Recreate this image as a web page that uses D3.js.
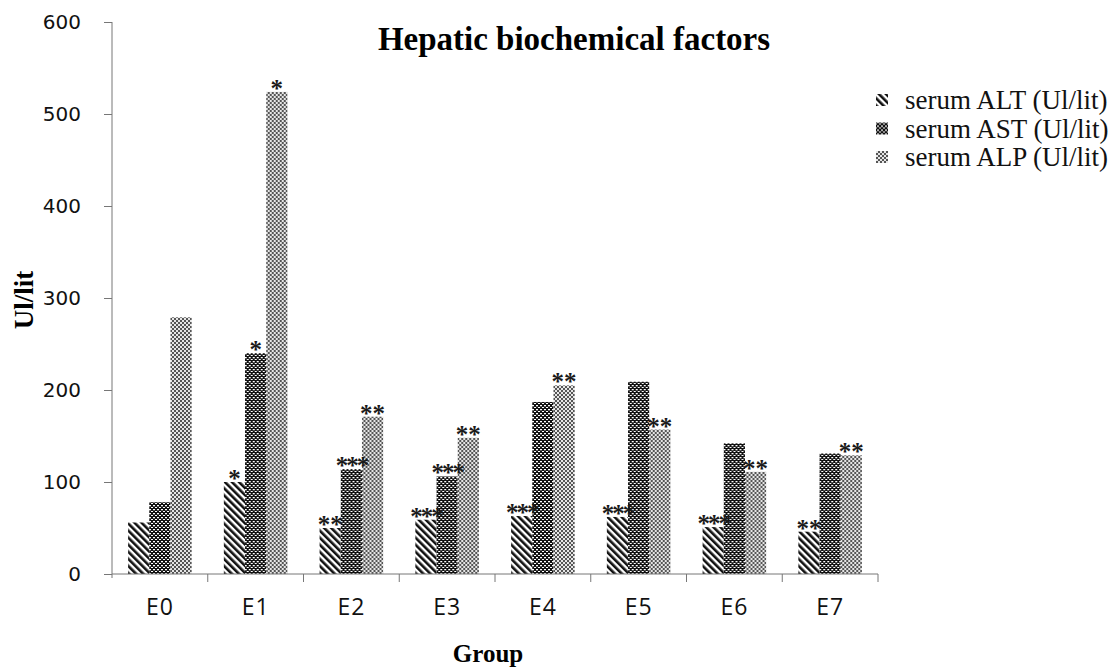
<!DOCTYPE html>
<html><head><meta charset="utf-8">
<script src="https://cdn.jsdelivr.net/npm/d3@7"></script>
<style>body{margin:0;background:#fff;}svg{display:block;}</style>
</head><body>
<script>
const groups = ["E0","E1","E2","E3","E4","E5","E6","E7"];
const seriesNames = ["serum ALT (Ul/lit)","serum AST (Ul/lit)","serum ALP (Ul/lit)"];
const altValues = [56, 100, 50, 59, 63, 62, 51, 46];
const astValues = [78, 240, 114, 106, 187, 209, 142, 131];
const alpValues = [279, 524, 171, 148, 205, 157, 111, 129];
const altSig = ["", "*", "**", "***", "***", "***", "***", "**"];
const astSig = ["", "*", "***", "***", "", "", "", ""];
const alpSig = ["", "*", "**", "**", "**", "**", "**", "**"];
const yTicks = [0,100,200,300,400,500,600];

const W = 1117, H = 667;
const margin = {left:112, right:239, top:22, bottom:93};
const svg = d3.select("body").append("svg").attr("width",W).attr("height",H);

const defs = svg.append("defs");
// ALT diagonal stripes
const p1 = defs.append("pattern").attr("id","pALT").attr("patternUnits","userSpaceOnUse")
  .attr("width",5).attr("height",5).attr("patternTransform","rotate(-45)");
p1.append("rect").attr("width",5).attr("height",5).attr("fill","#fff");
p1.append("rect").attr("width",2.6).attr("height",5).attr("fill","#111");
// AST dark with white dots
const p2 = defs.append("pattern").attr("id","pAST").attr("patternUnits","userSpaceOnUse")
  .attr("width",4).attr("height",4);
p2.append("rect").attr("width",4).attr("height",4).attr("fill","#111");
p2.append("rect").attr("x",1).attr("y",1).attr("width",2).attr("height",1.3).attr("fill","#fff");
p2.append("rect").attr("x",3).attr("y",3).attr("width",2).attr("height",1.3).attr("fill","#fff");
p2.append("rect").attr("x",-1).attr("y",3).attr("width",2).attr("height",1.3).attr("fill","#fff");
// ALP light checker
const p3 = defs.append("pattern").attr("id","pALP").attr("patternUnits","userSpaceOnUse")
  .attr("width",4).attr("height",4);
p3.append("rect").attr("width",4).attr("height",4).attr("fill","#e6e6e6");
p3.append("rect").attr("x",0).attr("y",0).attr("width",2).attr("height",2).attr("fill","#555");
p3.append("rect").attr("x",2).attr("y",2).attr("width",2).attr("height",2).attr("fill","#555");

const x0 = d3.scaleBand().domain(groups).range([margin.left, W-margin.right]).paddingInner(0).paddingOuter(0);
const keys = ["ALT","AST","ALP"];
const x1 = d3.scaleBand().domain(keys).range([0, x0.bandwidth()]).paddingOuter(0.76).paddingInner(0);
const y = d3.scaleLinear().domain([0,600]).range([H-margin.bottom, margin.top]);

const data = groups.map((g,i)=>({g, vals:[
  {k:"ALT", v:altValues[i], s:altSig[i]},
  {k:"AST", v:astValues[i], s:astSig[i]},
  {k:"ALP", v:alpValues[i], s:alpSig[i]}]}));

const gg = svg.append("g").selectAll("g").data(data).join("g")
  .attr("transform", d=>`translate(${x0(d.g)},0)`);
gg.selectAll("rect").data(d=>d.vals).join("rect")
  .attr("x", d=>x1(d.k)).attr("width", x1.bandwidth())
  .attr("y", d=>y(d.v)).attr("height", d=>y(0)-y(d.v))
  .attr("fill", d=>`url(#p${d.k})`);
gg.selectAll("text").data(d=>d.vals.filter(v=>v.s)).join("text")
  .attr("x", d=>x1(d.k)+x1.bandwidth()/2).attr("y", d=>y(d.v)+5)
  .attr("text-anchor","middle").attr("font-family","Liberation Serif").attr("font-weight","bold")
  .attr("font-size",25).attr("letter-spacing",d=>d.s.length===3?-2:0)
  .attr("fill","#1a1a1a").text(d=>d.s);

// Y axis
const yAxis = svg.append("g").attr("transform",`translate(${margin.left},0)`)
  .call(d3.axisLeft(y).tickValues(yTicks).tickSize(8).tickPadding(23).tickFormat(d3.format("d")));
yAxis.select(".domain").attr("stroke","#777").attr("d",`M0,${y(600)}V${y(0)+4}`);
yAxis.selectAll(".tick line").attr("stroke","#777");
yAxis.selectAll("text").attr("font-family","DejaVu Sans").attr("font-size",20).attr("fill","#111");

// X axis
const xAxis = svg.append("g").attr("transform",`translate(0,${y(0)})`)
  .call(d3.axisBottom(x0).tickSize(0).tickPadding(25));
xAxis.select(".domain").attr("stroke","#777").attr("d",`M${margin.left},0H${W-margin.right}`);
xAxis.selectAll("text").attr("font-family","Open Sans").attr("font-size",23).attr("letter-spacing",1).attr("fill","#111");
const bounds = groups.map((g,i)=>x0(g)+x0.bandwidth());
svg.append("g").selectAll("line").data(bounds).join("line")
  .attr("x1",d=>d).attr("x2",d=>d).attr("y1",y(0)).attr("y2",y(0)+8).attr("stroke","#777");

// Title & labels
svg.append("text").attr("x",574).attr("y",50).attr("text-anchor","middle")
  .attr("font-family","Liberation Serif").attr("font-weight","bold").attr("font-size",33)
  .text("Hepatic biochemical factors");
svg.append("text").attr("x",488).attr("y",662).attr("text-anchor","middle")
  .attr("font-family","Liberation Serif").attr("font-weight","bold").attr("font-size",25)
  .text("Group");
svg.append("text").attr("transform","translate(33,300) rotate(-90)").attr("text-anchor","middle")
  .attr("font-family","Liberation Serif").attr("font-weight","bold").attr("font-size",27)
  .text("Ul/lit");

// Legend
const leg = svg.append("g").selectAll("g").data(keys).join("g")
  .attr("transform",(d,i)=>`translate(876,${100+i*28.5})`);
leg.append("rect").attr("x",0).attr("y",-6).attr("width",12).attr("height",12)
  .attr("fill",d=>`url(#p${d})`);
leg.append("text").attr("x",29).attr("y",9).attr("font-family","Liberation Serif")
  .attr("font-size",27).attr("fill","#111").text((d,i)=>seriesNames[i]);
</script>
</body></html>
